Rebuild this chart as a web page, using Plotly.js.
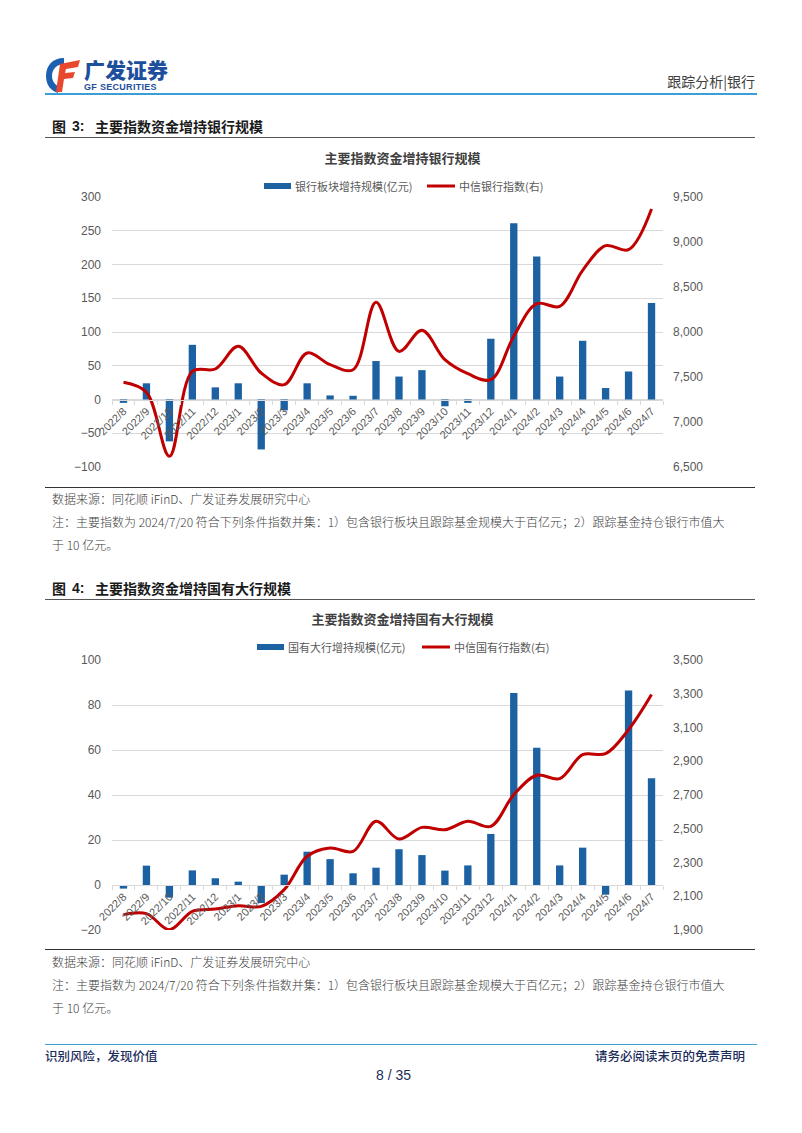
<!DOCTYPE html>
<html><head><meta charset="utf-8">
<script src="https://cdn.plot.ly/plotly-3.0.1.min.js"></script>
<style>
body{margin:0;width:802px;height:1133px;background:#fff;position:relative;overflow:hidden;font-family:"Noto Sans CJK SC","Noto Sans",sans-serif}
.t{position:absolute;white-space:nowrap;line-height:1}
.ln{position:absolute;height:0}
.chart{position:absolute;left:0;width:802px;height:350px}
.note{font-size:12px;color:#404040;font-weight:300}
.fig{font-size:14px;font-weight:700;color:#1a1a1a}
.foot{font-size:12.5px;font-weight:500;color:#1c2d5a}
</style></head><body>

<svg class="t" style="left:44px;top:56px" width="40" height="38" viewBox="0 0 40 38">
  <path d="M20 2 C8 2 2 10 2 20 C2 29 7 35 14 37 L14 30 C10 28 8 24 8 20 C8 13 13 8 20 8 Z" fill="#1d5fb0"/>
  <path d="M16 8 L36 4 L34 11 L22 13 L21 17 L31 16 L29 22 L20 23 L18 36 L12 36 Z" fill="#e8482b"/>
</svg>
<div class="t" style="left:84px;top:59px;font-size:21px;font-weight:900;color:#1d4f9c">广发证券</div>
<div class="t" style="left:84px;top:83px;font-size:9px;font-weight:700;color:#1d4f9c;font-family:'Liberation Sans',Arial;letter-spacing:0.3px">GF SECURITIES</div>
<div class="t" style="right:47px;top:74px;font-size:14px;color:#404040">跟踪分析|银行</div>
<div class="ln" style="left:45px;width:712px;top:93px;border-top:2px solid #3a9fd5"></div>

<div class="t fig" style="left:52px;top:119px">图</div>
<div class="t fig" style="left:72px;top:119px;font-family:'Liberation Sans',Arial">3:</div>
<div class="t fig" style="left:95px;top:119px">主要指数资金增持银行规模</div>
<div class="ln" style="left:45px;width:710px;top:137px;border-top:1px solid #555"></div>

<div id="c1" class="chart" style="top:140px"></div>

<div class="ln" style="left:45px;width:710px;top:487px;border-top:1.5px solid #333"></div>
<div class="t note" style="left:52px;top:493px">数据来源：同花顺 iFinD、广发证券发展研究中心</div>
<div class="t note" style="left:52px;top:516px">注：主要指数为 2024/7/20 符合下列条件指数并集：1）包含银行板块且跟踪基金规模大于百亿元；2）跟踪基金持仓银行市值大</div>
<div class="t note" style="left:52px;top:539px">于 10 亿元。</div>

<div class="t fig" style="left:52px;top:581px">图</div>
<div class="t fig" style="left:72px;top:581px;font-family:'Liberation Sans',Arial">4:</div>
<div class="t fig" style="left:95px;top:581px">主要指数资金增持国有大行规模</div>
<div class="ln" style="left:45px;width:710px;top:599px;border-top:1px solid #555"></div>

<div id="c2" class="chart" style="top:600px"></div>

<div class="ln" style="left:45px;width:710px;top:949px;border-top:1.5px solid #333"></div>
<div class="t note" style="left:52px;top:956px">数据来源：同花顺 iFinD、广发证券发展研究中心</div>
<div class="t note" style="left:52px;top:979px">注：主要指数为 2024/7/20 符合下列条件指数并集：1）包含银行板块且跟踪基金规模大于百亿元；2）跟踪基金持仓银行市值大</div>
<div class="t note" style="left:52px;top:1002px">于 10 亿元。</div>

<div class="ln" style="left:45px;width:712px;top:1044px;border-top:1.5px solid #3a9fd5"></div>
<div class="t foot" style="left:45px;top:1050px">识别风险，发现价值</div>
<div class="t foot" style="right:57px;top:1050px">请务必阅读末页的免责声明</div>
<div class="t" style="left:376px;top:1068px;font-size:14px;color:#1c2d5a;font-family:'Liberation Sans',Arial">8 / 35</div>

<script>
const months = ['2022/8','2022/9','2022/10','2022/11','2022/12','2023/1','2023/2','2023/3','2023/4','2023/5','2023/6','2023/7','2023/8','2023/9','2023/10','2023/11','2023/12','2024/1','2024/2','2024/3','2024/4','2024/5','2024/6','2024/7'];
const bankInflow = [-5,24,-62,81,18,24,-74,-16,24,6,5.5,57,34,43.5,-10,-5,90,261,212,34,87,17,41.5,143];
const citicBankIdx = [7441,7330,6619,7563,7589,7841,7544,7415,7767,7637,7581,8330,7785,8019,7693,7537,7470,7952,8315,8285,8685,8959,8915,9367];
const soeInflow = [-1.6,8.6,-5.6,6.5,3,1.5,-8,4.6,14.8,11.5,5.2,7.7,15.9,13.3,6.4,8.7,22.7,85.3,61,8.7,16.6,-4.3,86.5,47.4];
const citicSoeIdx = [1991,1997,1902,2011,2024,2044,2040,2139,2337,2386,2366,2544,2439,2508,2494,2544,2514,2702,2817,2797,2939,2945,3087,3295];

const chart1 = {title:'主要指数资金增持银行规模', barName:'银行板块增持规模(亿元)', lineName:'中信银行指数(右)',
  yRange:[-100,300], yDtick:50, y2Range:[6500,9500], y2Dtick:500};
const chart2 = {title:'主要指数资金增持国有大行规模', barName:'国有大行增持规模(亿元)', lineName:'中信国有行指数(右)',
  yRange:[-20,100], yDtick:20, y2Range:[1900,3500], y2Dtick:200};

const BLUE = '#1c62a3', RED = '#c00000', GRID = '#d9d9d9', TXT = '#595959';

function draw(id, cfg, bars, line, leg) {
  const W = 802, H = 350, L = 112, R = 663, T = leg.plotTop, B = leg.plotBottom;
  const pw = R - L, ph = B - T;
  const px = x => (x - L) / pw, py = y => (B - y) / ph;
  const zeroFrac = (0 - cfg.yRange[0]) / (cfg.yRange[1] - cfg.yRange[0]);
  const tickFont = {family:'Liberation Sans, Arial', size:12, color:TXT};
  const legFont = {family:'Noto Sans CJK SC', size:11, color:TXT};
  const data = [
    {type:'bar', x:months, y:bars, marker:{color:BLUE}, yaxis:'y', name:cfg.barName, hoverinfo:'x+y'},
    {type:'scatter', mode:'lines', x:months, y:line, yaxis:'y2', name:cfg.lineName,
     line:{color:RED, width:3, shape:'spline', smoothing:1}}
  ];
  const layout = {
    width:W, height:H, margin:{l:L, r:W-R, t:T, b:H-B},
    paper_bgcolor:'rgba(0,0,0,0)', plot_bgcolor:'rgba(0,0,0,0)',
    showlegend:false, bargap:0.68,
    title:{text:cfg.title, x:0.502, xanchor:'center', xref:'container', y:1-leg.titleY/H, yref:'container', yanchor:'middle',
      font:{family:'Noto Sans CJK SC', size:13, color:'#404040', weight:700}},
    xaxis:{type:'category', anchor:'free', position:zeroFrac, showline:true, linecolor:GRID, linewidth:1,
      ticks:'outside', tickson:'boundaries', ticklen:4, tickcolor:GRID, tickmode:'linear', tick0:0, dtick:1,
      tickangle:-45, tickfont:{family:'Liberation Sans, Arial', size:11, color:TXT}, showgrid:false, fixedrange:true},
    yaxis:{range:cfg.yRange, dtick:cfg.yDtick, tick0:0, showgrid:true, gridcolor:GRID, gridwidth:1, zeroline:false,
      showline:false, ticks:'', tickfont:tickFont, ticklabelstandoff:10},
    yaxis2:{range:cfg.y2Range, dtick:cfg.y2Dtick, tick0:cfg.y2Range[0], overlaying:'y', side:'right', showgrid:false, zeroline:false,
      showline:false, ticks:'', tickformat:',d', tickfont:tickFont, ticklabelstandoff:9},
    shapes:[
      {type:'rect', xref:'paper', yref:'paper', x0:px(leg.barX0), x1:px(leg.barX0+27), y0:py(leg.y+3), y1:py(leg.y-3),
       fillcolor:BLUE, line:{width:0}},
      {type:'line', xref:'paper', yref:'paper', x0:px(leg.lineX0), x1:px(leg.lineX0+28), y0:py(leg.y), y1:py(leg.y),
       line:{color:RED, width:3}}
    ],
    annotations:[
      {xref:'paper', yref:'paper', x:px(leg.barX0+29), y:py(leg.y), xanchor:'left', yanchor:'middle', showarrow:false,
       text:cfg.barName, font:legFont},
      {xref:'paper', yref:'paper', x:px(leg.lineX0+30), y:py(leg.y), xanchor:'left', yanchor:'middle', showarrow:false,
       text:cfg.lineName, font:legFont}
    ]
  };
  Plotly.newPlot(id, data, layout, {displayModeBar:false, staticPlot:true});
}

draw('c1', chart1, bankInflow, citicBankIdx, {plotTop:57, plotBottom:327, titleY:18, y:46, barX0:264, lineX0:427});
draw('c2', chart2, soeInflow, citicSoeIdx, {plotTop:60, plotBottom:330, titleY:19, y:47, barX0:257, lineX0:422});
</script>
</body></html>
